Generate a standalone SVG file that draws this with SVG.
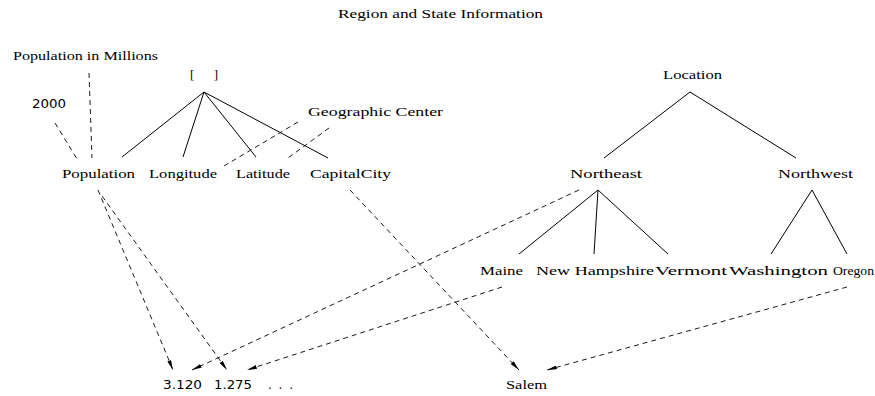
<svg xmlns="http://www.w3.org/2000/svg" width="875" height="396" viewBox="0 0 875 396">
<defs>
<style>
.t{font-family:"Liberation Serif","Times New Roman",serif;font-size:13px;fill:#000}
.s{font-family:"DejaVu Sans","Liberation Sans",sans-serif;font-size:12px;fill:#000}
.solid{stroke:#000;stroke-width:1;fill:none}
.dash{stroke:#000;stroke-width:0.9;fill:none;stroke-dasharray:5 4}
.arr{stroke:#000;stroke-width:0.9;fill:none;stroke-dasharray:5 4;marker-end:url(#ah)}
</style>
<marker id="ah" viewBox="0 0 10 4" refX="10" refY="2" markerWidth="10" markerHeight="4" markerUnits="userSpaceOnUse" orient="auto">
<path d="M0,0 L10,2 L0,4 Z" fill="#000"/>
</marker>
</defs>
<rect width="875" height="396" fill="#fff"/>
<g id="title"><text class="t" x="338" y="18" textLength="205" lengthAdjust="spacingAndGlyphs" font-size="12">Region and State Information</text></g>
<g id="pop-millions"><text class="t" x="13" y="60" textLength="145" lengthAdjust="spacingAndGlyphs">Population in Millions</text></g>
<g id="brackets"><text class="t" x="190" y="79" textLength="28" lengthAdjust="spacing">[ ]</text></g>
<g id="y2000"><text class="s" x="32" y="108" textLength="34" lengthAdjust="spacingAndGlyphs">2000</text></g>
<g id="geo-center"><text class="t" x="308" y="116" textLength="135" lengthAdjust="spacingAndGlyphs">Geographic Center</text></g>
<g id="location"><text class="t" x="663" y="79" textLength="59" lengthAdjust="spacingAndGlyphs">Location</text></g>
<g id="population"><text class="t" x="62" y="178" textLength="73" lengthAdjust="spacingAndGlyphs">Population</text></g>
<g id="longitude"><text class="t" x="149" y="178" textLength="68" lengthAdjust="spacingAndGlyphs">Longitude</text></g>
<g id="latitude"><text class="t" x="236" y="178" textLength="54" lengthAdjust="spacingAndGlyphs">Latitude</text></g>
<g id="capitalcity"><text class="t" x="310" y="178" textLength="81" lengthAdjust="spacingAndGlyphs">CapitalCity</text></g>
<g id="northeast"><text class="t" x="570" y="178" textLength="72" lengthAdjust="spacingAndGlyphs">Northeast</text></g>
<g id="northwest"><text class="t" x="778" y="178" textLength="75" lengthAdjust="spacingAndGlyphs">Northwest</text></g>
<g id="maine"><text class="t" x="480" y="275" textLength="43" lengthAdjust="spacingAndGlyphs">Maine</text></g>
<g id="newhampshire"><text class="t" x="536" y="275" textLength="118" lengthAdjust="spacingAndGlyphs">New Hampshire</text></g>
<g id="vermont"><text class="t" x="655" y="275" textLength="72" lengthAdjust="spacingAndGlyphs">Vermont</text></g>
<g id="washington"><text class="t" x="729" y="275" textLength="99" lengthAdjust="spacingAndGlyphs">Washington</text></g>
<g id="oregon"><text class="t" x="833" y="275" textLength="41" lengthAdjust="spacingAndGlyphs">Oregon</text></g>
<g id="v3120"><text class="s" x="163" y="389" textLength="39" lengthAdjust="spacingAndGlyphs">3.120</text></g>
<g id="v1275"><text class="s" x="214" y="389" textLength="38" lengthAdjust="spacingAndGlyphs">1.275</text></g>
<g id="ellipsis"><text class="s" x="268" y="389" textLength="25" lengthAdjust="spacing">...</text></g>
<g id="salem"><text class="t" x="506" y="389" textLength="41" lengthAdjust="spacingAndGlyphs">Salem</text></g>
<g id="connectors">
<path class="solid" d="M204,92 L122,157 M204,92 L183,157 M204,92 L256,157 M204,92 L328,158"/>
<path class="solid" d="M690,92 L604,158 M690,92 L796,158"/>
<path class="solid" d="M598,190 L519,254 M598,190 L594,254 M598,190 L668,254"/>
<path class="solid" d="M812,190 L771,254 M812,190 L847,254"/>
<path class="dash" d="M55,123 L77,159"/>
<path class="dash" d="M89,73 L92,158"/>
<path class="dash" d="M298,122 L224,166"/>
<path class="dash" d="M329,128 L288,158"/>
<path class="arr" d="M98,190 L173,370"/>
<path class="arr" d="M102,196 L227,370"/>
<path class="arr" d="M579,190 L192,370"/>
<path class="arr" d="M502,287 L247,370"/>
<path class="arr" d="M350,190 L519,370"/>
<path class="arr" d="M847,287 L547,370"/>
</g>
</svg>
